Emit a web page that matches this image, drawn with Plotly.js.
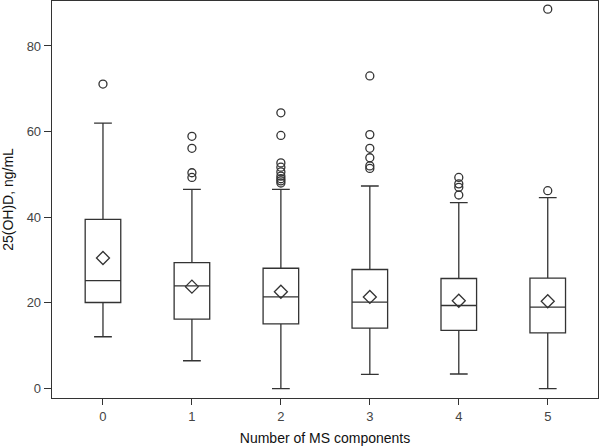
<!DOCTYPE html>
<html>
<head>
<meta charset="utf-8">
<script src="https://cdn.plot.ly/plotly-3.0.1.min.js"></script>
<style>
  html, body { margin: 0; padding: 0; background: #fff; }
  #chart { width: 600px; height: 446px; }
</style>
</head>
<body>
<div id="chart"></div>
<script>
// Anzahl MS-Komponenten und Kennwerte der Boxplots
const groups = [0, 1, 2, 3, 4, 5];
const lowerWhisker = [12.1, 6.5, 0.0, 3.3, 3.4, 0.0];
const q1Values = [20.1, 16.2, 15.1, 14.1, 13.6, 13.0];
const medianValues = [25.2, 24.0, 21.4, 20.2, 19.4, 19.0];
const q3Values = [39.5, 29.4, 28.1, 27.8, 25.7, 25.8];
const upperWhisker = [62.0, 46.5, 46.5, 47.3, 43.4, 44.6];
const meanValues = [30.5, 23.8, 22.6, 21.4, 20.5, 20.4];

// Ausreißer je Gruppe
const outliers0 = [71.1];
const outliers1 = [58.9, 56.1, 50.4, 49.3];
const outliers2 = [64.4, 59.1, 52.7, 51.7, 50.6, 49.6, 49.0, 48.5, 48.0];
const outliers3 = [73.0, 59.3, 56.1, 53.9, 52.0, 51.4];
const outliers4 = [49.3, 47.8, 47.0, 45.2];
const outliers5 = [88.6, 46.2];

const yTicks = [0, 20, 40, 60, 80];

const ink = '#333333';
const outlierLists = [outliers0, outliers1, outliers2, outliers3, outliers4, outliers5];

const outX = [];
const outY = [];
outlierLists.forEach((list, i) => {
    list.forEach(v => { outX.push(groups[i]); outY.push(v); });
});

const traces = [
    {
        type: 'box',
        x: groups,
        q1: q1Values,
        median: medianValues,
        q3: q3Values,
        lowerfence: lowerWhisker,
        upperfence: upperWhisker,
        width: 0.4,
        whiskerwidth: 0.5,
        fillcolor: '#ffffff',
        line: { color: ink, width: 1.3 },
        boxpoints: false,
        hoverinfo: 'skip',
        showlegend: false
    },
    {
        type: 'scatter',
        mode: 'markers',
        x: groups,
        y: meanValues,
        marker: { symbol: 'diamond-open', size: 10, color: ink, line: { width: 1.3, color: ink } },
        showlegend: false
    },
    {
        type: 'scatter',
        mode: 'markers',
        x: outX,
        y: outY,
        marker: { symbol: 'circle-open', size: 8, color: ink, line: { width: 1.3, color: ink } },
        showlegend: false
    }
];

const axisFont = { family: 'Liberation Sans, Arial, sans-serif', size: 13, color: '#444' };

const layout = {
    width: 600,
    height: 446,
    margin: { l: 52, r: 2, t: 1, b: 48, pad: 0 },
    paper_bgcolor: '#fff',
    plot_bgcolor: '#fff',
    showlegend: false,
    xaxis: {
        range: [-0.573, 5.565],
        tickvals: groups,
        ticktext: groups.map(String),
        ticks: 'outside',
        ticklen: 6,
        tickcolor: ink,
        tickwidth: 1,
        tickfont: axisFont,
        showgrid: false,
        zeroline: false,
        showline: true,
        mirror: true,
        linecolor: ink,
        linewidth: 1.3,
        automargin: false,
        title: {
            text: 'Number of MS components',
            font: { family: 'Liberation Sans, Arial, sans-serif', size: 14, color: '#111' },
            standoff: 10
        }
    },
    yaxis: {
        range: [-2.2, 90.5],
        tickvals: yTicks,
        ticks: 'outside',
        ticklen: 7,
        tickcolor: ink,
        tickwidth: 1,
        tickfont: axisFont,
        showgrid: false,
        zeroline: false,
        showline: true,
        mirror: true,
        linecolor: ink,
        linewidth: 1.3,
        automargin: false,
        title: {
            text: '25(OH)D, ng/mL',
            font: { family: 'Liberation Sans, Arial, sans-serif', size: 14, color: '#111' },
            standoff: 10
        }
    }
};

Plotly.newPlot('chart', traces, layout, { displayModeBar: false, staticPlot: true });
</script>
</body>
</html>
